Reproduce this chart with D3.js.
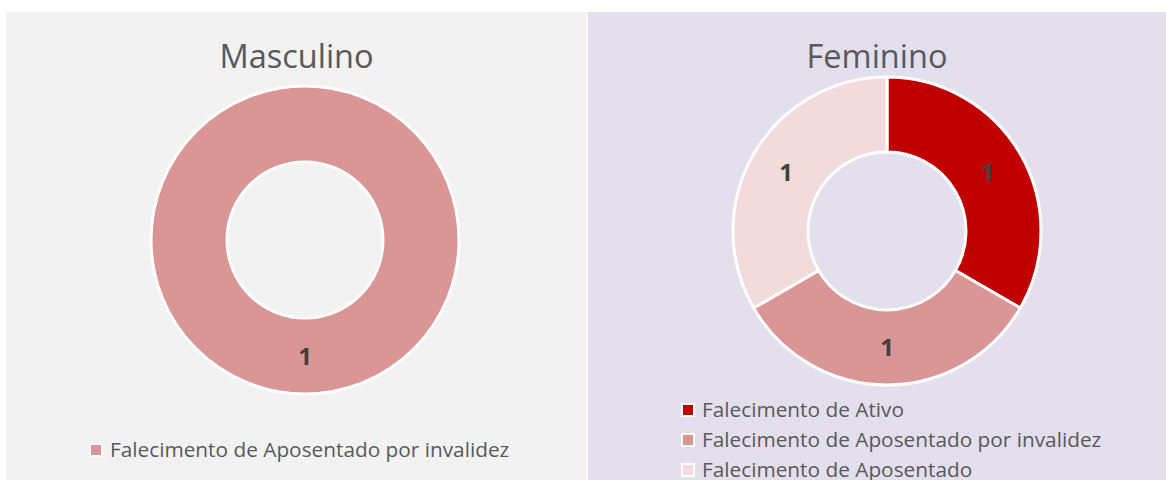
<!DOCTYPE html>
<html><head><meta charset="utf-8">
<script src="https://cdn.jsdelivr.net/npm/d3@7"></script>
<style>body{margin:0;background:#fff}svg{display:block}</style>
</head><body>
<script>
const panels = ["Masculino", "Feminino"];
const mascCategories = ["Falecimento de Aposentado por invalidez"];
const mascValues = [1];
const femCategories = ["Falecimento de Ativo", "Falecimento de Aposentado por invalidez", "Falecimento de Aposentado"];
const femValues = [1, 1, 1];
const colorDomain = ["Falecimento de Ativo", "Falecimento de Aposentado por invalidez", "Falecimento de Aposentado"];
const colorRange = ["#c00000", "#da9694", "#f2dcdb"];

const W = 1166, H = 480;
const svg = d3.select("body").append("svg").attr("width", W).attr("height", H);
svg.append("rect").attr("width", W).attr("height", H).attr("fill", "#fff");

const color = d3.scaleOrdinal().domain(colorDomain).range(colorRange);

const layout = [
  {title: panels[0], cats: mascCategories, vals: mascValues, x0: 6, x1: 587, bg: "#f2f2f2",
   cx: 305, cy: 240, ro: 154, ri: 78, legX: 90, legY: [450]},
  {title: panels[1], cats: femCategories, vals: femValues, x0: 588, x1: 1166, bg: "#e4dfec",
   cx: 887, cy: 231, ro: 154, ri: 79, legX: 682, legY: [410, 440, 470]}
];

layout.forEach(p => {
  const g = svg.append("g");
  g.append("rect").attr("x", p.x0).attr("y", 12).attr("width", p.x1 - p.x0).attr("height", H - 12).attr("fill", p.bg);
  g.append("text").attr("x", (p.x0 + p.x1) / 2).attr("y", 68).attr("text-anchor", "middle")
    .attr("font-family", "'Open Sans', sans-serif").attr("font-size", 32.5).attr("fill", "#595959").text(p.title);

  const data = p.cats.map((c, i) => ({cat: c, val: p.vals[i]}));
  const pie = d3.pie().sort(null).value(d => d.val);
  const arc = d3.arc().innerRadius(p.ri).outerRadius(p.ro);
  const arcs = pie(data);
  const dg = g.append("g").attr("transform", `translate(${p.cx},${p.cy})`);
  dg.selectAll("path").data(arcs).join("path").attr("d", arc)
    .attr("fill", d => color(d.data.cat)).attr("stroke", "#fff").attr("stroke-width", 3);
  dg.selectAll("text").data(arcs).join("text")
    .attr("transform", d => {
      let c = arc.centroid(d);
      if (d.endAngle - d.startAngle >= 2 * Math.PI - 1e-6) c = [0, (p.ri + p.ro) / 2];
      return `translate(${c[0]},${c[1]})`;
    })
    .attr("text-anchor", "middle").attr("dy", "0.36em")
    .attr("font-family", "'Open Sans', sans-serif").attr("font-weight", "bold").attr("font-size", 24)
    .attr("fill", "#404040").text(d => d.data.val);

  const lg = g.append("g");
  data.forEach((d, i) => {
    const y = p.legY[i];
    lg.append("rect").attr("x", p.legX).attr("y", y - 6).attr("width", 12).attr("height", 12)
      .attr("fill", color(d.cat)).attr("stroke", "#fff").attr("stroke-width", 2);
    lg.append("text").attr("x", p.legX + 20).attr("y", y).attr("dy", "0.35em")
      .attr("font-family", "'Open Sans', sans-serif").attr("font-size", 20.8).attr("fill", "#595959").text(d.cat);
  });
});
</script>
</body></html>
